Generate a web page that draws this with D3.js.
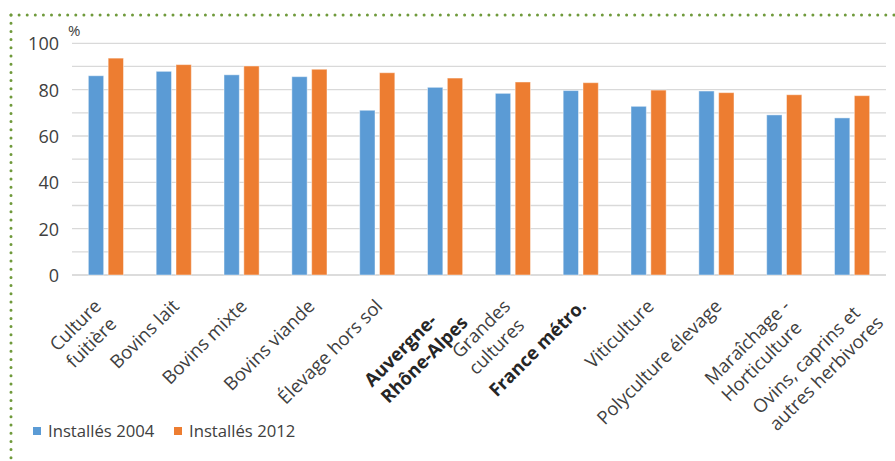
<!DOCTYPE html>
<html><head><meta charset="utf-8">
<script src="https://cdn.jsdelivr.net/npm/d3@7"></script>
<style>
html,body{margin:0;padding:0;background:#fff;}
svg{display:block;font-family:"Open Sans",sans-serif;}
</style></head>
<body><svg id="c" width="895" height="461"></svg>
<script>
const categories = ["Culture\nfuitière","Bovins lait","Bovins mixte","Bovins viande","Élevage hors sol","Auvergne-\nRhône-Alpes","Grandes\ncultures","France métro.","Viticulture","Polyculture élevage","Maraîchage -\nHorticulture","Ovins, caprins et\nautres herbivores"];
const boldCategories = ["Auvergne-\nRhône-Alpes","France métro."];
const seriesNames = ["Installés 2004","Installés 2012"];
const values2004 = [86, 87.9, 86.4, 85.6, 71.1, 81.0, 78.4, 79.6, 72.8, 79.4, 69.1, 67.8];
const values2012 = [93.6, 90.8, 90.2, 88.8, 87.3, 85.0, 83.3, 83.0, 79.8, 78.7, 77.8, 77.4];
const yTicks = [0, 20, 40, 60, 80, 100];
const gridTicks = [0,10,20,30,40,50,60,70,80,90,100];
const colors = ["#5B9BD5","#ED7D31"];

const svg = d3.select("#c");
const W = 895, H = 461;
const plot = {left:72, right:886, top:43.3, bottom:275};

// dotted border
const dotColor = "#6f9a3b";
svg.append("line").attr("x1",11).attr("y1",15).attr("x2",W+10).attr("y2",15)
  .attr("stroke",dotColor).attr("stroke-width",3).attr("stroke-linecap","round").attr("stroke-dasharray","0 8.1");
svg.append("line").attr("x1",11).attr("y1",15).attr("x2",11).attr("y2",H+10)
  .attr("stroke",dotColor).attr("stroke-width",3).attr("stroke-linecap","round").attr("stroke-dasharray","0 8.2");

const x0 = d3.scaleBand().domain(categories).range([plot.left, plot.right]).paddingInner(0).paddingOuter(0);
const bw = x0.bandwidth();
const outer = bw*0.241;
const x1 = d3.scaleBand().domain(seriesNames).range([outer, bw-outer]).paddingInner(0.227).paddingOuter(0);
const y = d3.scaleLinear().domain([0,100]).range([plot.bottom, plot.top]);

// gridlines
svg.append("g").selectAll("line").data(gridTicks).join("line")
  .attr("x1",plot.left).attr("x2",plot.right)
  .attr("y1",d=>y(d)).attr("y2",d=>y(d))
  .attr("stroke",d=>d===0?"#d0d0d0":"#d9d9d9").attr("stroke-width",1.3);

// y axis labels
const yAxis = d3.axisLeft(y).tickValues(yTicks).tickSize(0).tickPadding(0);
const ya = svg.append("g").attr("transform",`translate(${plot.left-13},0)`).call(yAxis);
ya.select(".domain").remove();
ya.selectAll("text").attr("font-size",18).attr("fill","#404040").attr("font-family","Open Sans").attr("dy","0.36em");

svg.append("text").attr("x",68).attr("y",36).attr("font-size",15).attr("fill","#404040").text("%");

// bars
const data = categories.map((c,i)=>({c, vals:[values2004[i], values2012[i]]}));
const groups = svg.append("g").selectAll("g").data(data).join("g")
  .attr("transform",d=>`translate(${x0(d.c)},0)`);
groups.selectAll("rect").data(d=>d.vals.map((v,j)=>({s:seriesNames[j], v, j}))).join("rect")
  .attr("x",d=>x1(d.s)).attr("width",x1.bandwidth())
  .attr("y",d=>y(d.v)).attr("height",d=>y(0)-y(d.v))
  .attr("fill",d=>colors[d.j]).attr("stroke","#fff").attr("stroke-opacity",0.45).attr("stroke-width",1);

// category labels (rotated -45°, lines left-aligned, block top-right anchored)
const fs = 18.5, fsBold = 18.3, lh = 23.5, angle = -45;
const labG = svg.append("g");
categories.forEach(c=>{
  const lines = c.split("\n");
  const bold = boldCategories.includes(c);
  const f = bold ? fsBold : fs;
  const cx = x0(c) + bw/2;
  const g = labG.append("g");
  const texts = lines.map((ln,i)=> g.append("text").attr("font-size",f)
      .attr("font-weight",bold?"bold":"normal").attr("fill",bold?"#262626":"#404040")
      .attr("y", 0.72*f + i*lh).text(ln));
  const widths = texts.map(t=>t.node().getComputedTextLength());
  const Wb = d3.max(widths);
  texts.forEach(t=>t.attr("x",-Wb));
  const trx = lines.length===1 ? cx-3 : cx - 27 + 0.22*Wb;
  const tr_y = 298;
  g.attr("transform",`translate(${trx},${tr_y}) rotate(${angle})`);
});

// legend
const leg = svg.append("g");
const legX = [33, 174];
seriesNames.forEach((s,i)=>{
  leg.append("rect").attr("x",legX[i]).attr("y",427).attr("width",8).attr("height",8).attr("fill",colors[i]);
  leg.append("text").attr("x",legX[i]+15).attr("y",437).attr("font-size",16.7).attr("fill","#404040").text(s);
});
</script></body></html>
